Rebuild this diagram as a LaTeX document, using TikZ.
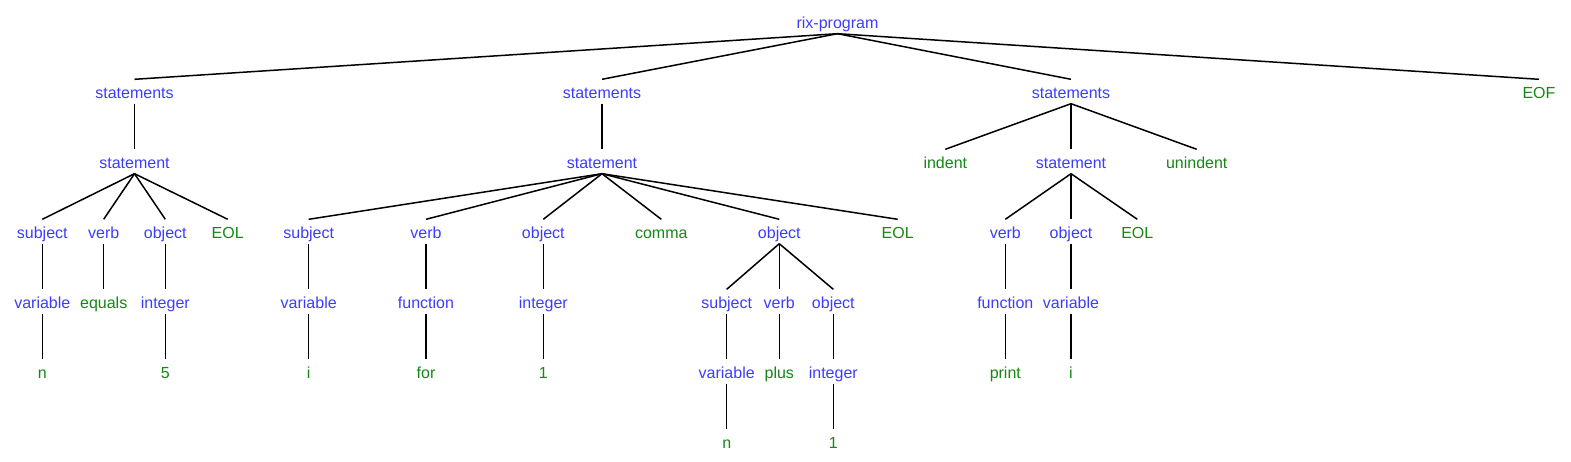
\documentclass[tikz,border=0pt]{standalone}
\usepackage{fontspec}
\setmainfont{Liberation Sans}
\definecolor{ntblue}{RGB}{60,60,255}
\definecolor{tgreen}{RGB}{20,135,20}
\tikzset{
  base/.style={anchor=base,inner xsep=0pt,inner ysep=0pt,text height=19pt,text depth=5pt,font=\fontsize{16pt}{19pt}\selectfont},
  nt/.style={base,text=ntblue},
  tm/.style={base,text=tgreen},
  edge/.style={draw=black,line width=1.5pt}
}
\begin{document}
\begin{tikzpicture}[x=1pt,y=-1pt]
\useasboundingbox (0,0) rectangle (1571,462);
\def\ra{28.5}\def\rb{98.5}\def\rc{168.5}\def\rd{238.5}\def\re{308.5}\def\rf{378.5}\def\rg{448.5}
% row 0
\node[nt] (root) at (837.5,\ra) {rix-program};
% row 1
\node[nt] (s1) at (134.5,\rb) {statements};
\node[nt] (s2) at (602,\rb) {statements};
\node[nt] (s3) at (1071,\rb) {statements};
\node[tm] (eof) at (1539,\rb) {EOF};
% subtree 1
\node[nt] (st1) at (134.5,\rc) {statement};
\node[nt] (sub1) at (42.3,\rd) {subject};
\node[nt] (vb1) at (103.7,\rd) {verb};
\node[nt] (ob1) at (165.3,\rd) {object};
\node[tm] (eol1) at (227.7,\rd) {EOL};
\node[nt] (var1) at (42.3,\re) {variable};
\node[tm] (eq) at (103.7,\re) {equals};
\node[nt] (int1) at (165.3,\re) {integer};
\node[tm] (n1) at (42.3,\rf) {n};
\node[tm] (five) at (165.3,\rf) {5};
% subtree 2
\node[nt] (st2) at (602,\rc) {statement};
\node[nt] (sub2) at (308.7,\rd) {subject};
\node[nt] (vb2) at (426,\rd) {verb};
\node[nt] (ob2) at (543.3,\rd) {object};
\node[tm] (comma) at (661.3,\rd) {comma};
\node[nt] (ob3) at (779.3,\rd) {object};
\node[tm] (eol2) at (897.7,\rd) {EOL};
\node[nt] (var2) at (308.7,\re) {variable};
\node[nt] (fn1) at (426,\re) {function};
\node[nt] (int2) at (543.3,\re) {integer};
\node[tm] (i1) at (308.7,\rf) {i};
\node[tm] (for) at (426,\rf) {for};
\node[tm] (one1) at (543.3,\rf) {1};
\node[nt] (sub3) at (726.7,\re) {subject};
\node[nt] (vb3) at (779.3,\re) {verb};
\node[nt] (ob4) at (833.3,\re) {object};
\node[nt] (var3) at (726.7,\rf) {variable};
\node[tm] (plus) at (779.3,\rf) {plus};
\node[nt] (int3) at (833.3,\rf) {integer};
\node[tm] (n2) at (726.7,\rg) {n};
\node[tm] (one2) at (833.3,\rg) {1};
% subtree 3
\node[tm] (indent) at (945.3,\rc) {indent};
\node[nt] (st3) at (1071,\rc) {statement};
\node[tm] (unindent) at (1196.7,\rc) {unindent};
\node[nt] (vb4) at (1005.3,\rd) {verb};
\node[nt] (ob5) at (1071,\rd) {object};
\node[tm] (eol3) at (1137.3,\rd) {EOL};
\node[nt] (fn2) at (1005.3,\re) {function};
\node[nt] (var4) at (1071,\re) {variable};
\node[tm] (print) at (1005.3,\rf) {print};
\node[tm] (i2) at (1071,\rf) {i};
% edges
\foreach \p/\c in {root/s1,root/s2,root/s3,root/eof,
  s1/st1,st1/sub1,st1/vb1,st1/ob1,st1/eol1,sub1/var1,vb1/eq,ob1/int1,var1/n1,int1/five,
  s2/st2,st2/sub2,st2/vb2,st2/ob2,st2/comma,st2/ob3,st2/eol2,
  sub2/var2,vb2/fn1,ob2/int2,var2/i1,fn1/for,int2/one1,
  ob3/sub3,ob3/vb3,ob3/ob4,sub3/var3,vb3/plus,ob4/int3,var3/n2,int3/one2,
  s3/indent,s3/st3,s3/unindent,st3/vb4,st3/ob5,st3/eol3,vb4/fn2,ob5/var4,fn2/print,var4/i2}
  \draw[edge] (\p.south) -- (\c.north);
\end{tikzpicture}
\end{document}
